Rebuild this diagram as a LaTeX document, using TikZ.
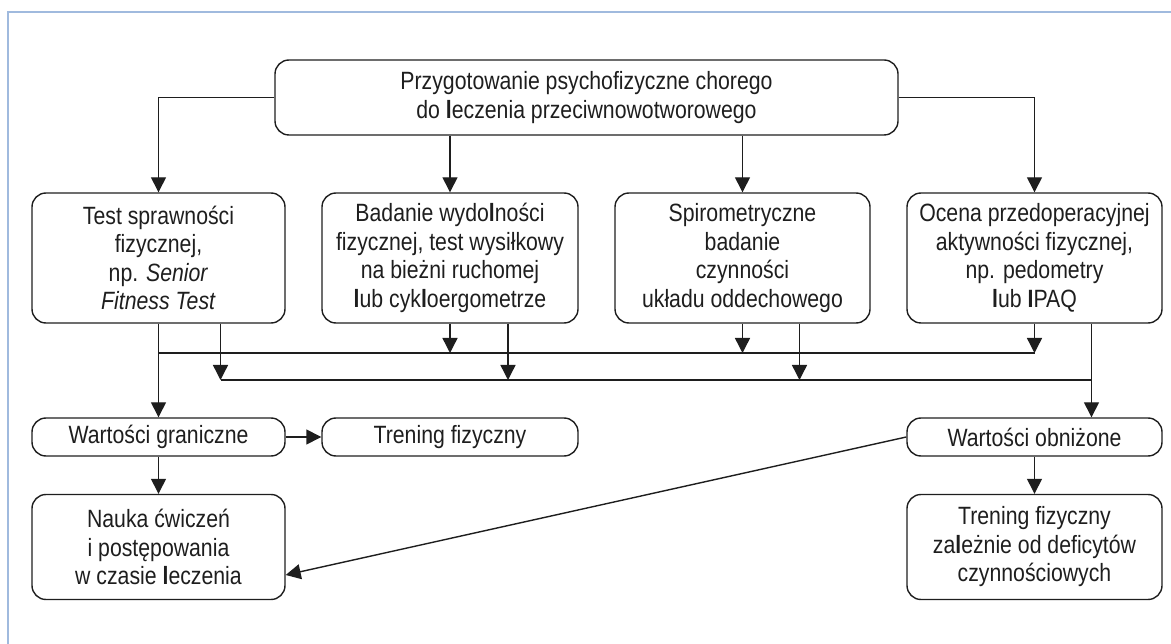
\documentclass[tikz,border=0pt]{standalone}
\usepackage{fontspec}
\setmainfont[FakeStretch=0.85]{Liberation Sans}
\usetikzlibrary{arrows.meta,calc}
\definecolor{framecol}{RGB}{160,186,222}
\definecolor{ink}{RGB}{30,30,30}
\newcommand\bl{\textbf{l}}

\begin{document}
\begin{tikzpicture}[x=1pt,y=-1pt,
  box/.style={draw=ink, line width=1.4pt, rounded corners=14pt, text=ink,
    align=center, inner sep=0pt, font=\fontsize{25}{28.5}\selectfont},
  flow/.style={draw=ink, line width=1.4pt},
  tip/.style={flow, -{Triangle[width=15pt,length=15pt]}}]
\useasboundingbox (0,0) rectangle (1171,644);

% frame
\draw[framecol, line width=1.5pt] (8,644) -- (8,12) -- (1171,12);

% top
\node[box, minimum width=623pt, minimum height=75pt] (top) at (586.5,97.5)
  {Przygotowanie psychofizyczne chorego\\do \bl eczenia przeciwnowotworowego};

% second row
\node[box, minimum width=253pt, minimum height=130pt] (A) at (158.5,258)
  {Test sprawności\\fizycznej,\\np. \textit{Senior}\\\textit{Fitness Test}};
\node[box, minimum width=256pt, minimum height=130pt] (B) at (450,258)
  {Badanie wydo\bl ności\\fizycznej, test wysiłkowy\\na bieżni ruchomej\\\bl ub cyk\bl oergometrze};
\node[box, minimum width=255pt, minimum height=130pt] (C) at (742.5,258)
  {Spirometryczne\\badanie\\czynności\\układu oddechowego};
\node[box, minimum width=255pt, minimum height=130pt] (D) at (1034.5,258)
  {Ocena przedoperacyjnej\\aktywności fizycznej,\\np. pedometry\\\bl ub \textbf{I}PAQ};

% third row
\node[box, minimum width=253pt, minimum height=38pt] (WG) at (158.5,437) {Wartości graniczne};
\node[box, minimum width=256pt, minimum height=38pt] (TF) at (450,437) {Trening fizyczny};
\node[box, minimum width=255pt, minimum height=38pt] (WO) at (1034.5,437) {Wartości obniżone};

% fourth row
\node[box, minimum width=253pt, minimum height=105pt] (N) at (158.5,547)
  {Nauka ćwiczeń\\i postępowania\\w czasie \bl eczenia};
\node[box, minimum width=255pt, minimum height=105pt] (TF2) at (1034.5,547)
  {Trening fizyczny\\za\bl eżnie od deficytów\\czynnościowych};

% arrows from the top box
\draw[tip] (top.west) -| (A.north);
\draw[tip] (top.east) -| (D.north);
\draw[tip] (top.south -| B.north) -- (B.north);
\draw[tip] (top.south -| C.north) -- (C.north);

% collecting lines
\coordinate (l1) at (0,353);
\coordinate (l2) at (0,380);
\coordinate (a2) at ($(A.south)+(62,0)$);
\coordinate (b2) at ($(B.south)+(58,0)$);
\coordinate (c2) at ($(C.south)+(57,0)$);
\coordinate (d2) at ($(D.south)+(57,0)$);

\draw[flow] (A.south |- l1) -- (D.south |- l1);
\draw[flow] (a2 |- l2) -- (d2 |- l2);

\draw[tip] (B.south) -- (B.south |- l1);
\draw[tip] (C.south) -- (C.south |- l1);
\draw[tip] (D.south) -- (D.south |- l1);
\draw[tip] (a2) -- (a2 |- l2);
\draw[tip] (b2) -- (b2 |- l2);
\draw[tip] (c2) -- (c2 |- l2);

\draw[tip] (A.south) -- (WG.north);
\draw[tip] (d2) -- (d2 |- WO.north);

% lower part
\draw[tip] (WG.east) -- (TF.west);
\draw[tip] (WG.south) -- (N.north);
\draw[tip] (WO.south) -- (TF2.north);
\draw[tip] (WO.west) -- ($(N.east)+(0,28)$);
\end{tikzpicture}
\end{document}
